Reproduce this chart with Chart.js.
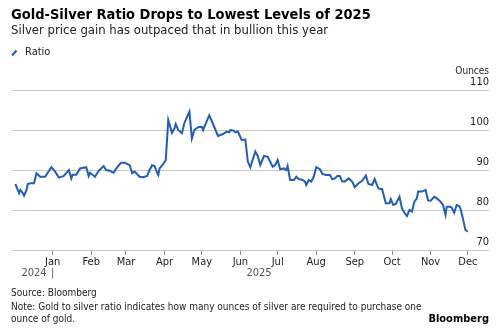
<!DOCTYPE html>
<html>
<head>
<meta charset="utf-8">
<script src="https://cdn.jsdelivr.net/npm/chart.js@4.4.1/dist/chart.umd.min.js"></script>
<style>
  html, body { margin: 0; padding: 0; background: #fff; }
  #wrap { width: 500px; height: 329px; position: relative; }
</style>
</head>
<body>
<div id="wrap"><canvas id="chart"></canvas></div>
<script>
/* =====================
  Data
===================== */
// days since 1 Jan 2025 (negative = Dec 2024)
var days = [-30, -28, -27, -26, -24, -23, -21, -20, -18, -15, -13, -10, -6, -4, -1,
  2, 5, 9, 13, 15, 16, 19, 22, 27, 29, 30, 34, 37, 41, 43, 46, 49, 52, 55, 58,
  62, 64, 66, 70, 73, 76, 78, 80, 82, 84, 85, 86, 89, 91, 93, 95, 96, 98, 99,
  101, 104, 106, 110, 112, 114, 117, 120, 121, 126, 129, 133, 137, 140, 142, 143,
  146, 147, 149, 152, 155, 157, 159, 163, 165, 167, 170, 173, 177, 179, 181, 183,
  186, 188, 189, 191, 194, 196, 198, 201, 203, 204, 206, 208, 210, 212, 215, 217,
  220, 223, 225, 227, 229, 231, 233, 235, 238, 241, 243, 246, 249, 252, 254, 257,
  259, 262, 265, 268, 271, 272, 274, 276, 279, 281, 283, 285, 287, 289, 291, 293,
  294, 297, 300, 302, 304, 307, 309, 312, 314, 316, 317, 320, 321, 323, 325, 327,
  328, 330, 332, 334]
var ratio = [86.5, 85.0, 84.2, 85.0, 84.2, 83.6, 85.0, 86.5, 86.7, 86.7, 89.2, 88.3, 88.3, 89.3, 90.7,
  89.6, 88.1, 88.5, 90.0, 87.9, 88.8, 88.8, 90.4, 90.7, 88.5, 89.3, 88.3, 89.8, 91.0, 90.0, 89.8, 89.3, 90.7, 91.8, 91.8,
  91.2, 89.2, 89.6, 88.3, 88.2, 88.5, 90.0, 91.2, 91.0, 89.3, 88.75, 90.4, 91.5, 92.5, 102.5, 100.4, 99.3, 100.4, 101.5,
  100.0, 99.2, 101.8, 104.6, 97.9, 100.0, 100.7, 100.8, 100.0, 103.7, 101.5, 98.5, 99.0, 99.6, 99.4, 100.0,
  99.8, 99.4, 99.6, 97.5, 97.6, 92.1, 90.7, 94.6, 93.5, 91.25, 93.5, 93.3, 90.8, 91.25, 92.5, 90.2,
  90.4, 90.0, 91.0, 87.5, 87.5, 88.3, 87.75, 87.5, 87.1, 86.25, 87.5, 87.1, 88.3, 90.7, 90.2, 89.0,
  88.75, 88.75, 87.7, 87.9, 88.5, 88.5, 87.1, 87.1, 87.9, 87.1, 85.7, 86.7, 87.3, 88.6, 86.5, 86.25,
  87.75, 85.4, 85.2, 81.7, 81.7, 82.7, 81.25, 81.5, 83.3, 80.4, 79.3, 78.5, 80.0, 79.6, 82.1, 82.9,
  84.6, 84.6, 85.0, 82.4, 82.3, 83.3, 82.9, 82.1, 81.25, 78.75, 80.8, 80.8, 80.6, 79.3, 81.25, 81.0,
  80.4, 77.9, 75.0, 74.6]

var monthStarts = [0, 31, 59, 90, 120, 151, 181, 212, 243, 273, 304, 334]
var monthLabels = ['Jan', 'Feb', 'Mar', 'Apr', 'May', 'Jun', 'Jul', 'Aug', 'Sep', 'Oct', 'Nov', 'Dec']
var yTicks = [70, 80, 90, 100, 110]

var FONT = "'DejaVu Sans Condensed', 'Liberation Sans', sans-serif"
var LINE_BLUE = '#1f5fb5'

/* =====================
  Text around the plot
===================== */
var textPlugin = {
  id: 'texts',
  afterDraw: function (chart) {
    var ctx = chart.ctx
    var xs = chart.scales.x
    ctx.save()
    ctx.textBaseline = 'middle'

    // title + subtitle
    ctx.fillStyle = '#000'
    ctx.textAlign = 'left'
    ctx.font = 'bold 14.5px ' + FONT
    ctx.fillText('Gold-Silver Ratio Drops to Lowest Levels of 2025', 11, 15)
    ctx.fillStyle = '#222'
    ctx.font = '13px ' + FONT
    ctx.fillText('Silver price gain has outpaced that in bullion this year', 11, 31)

    // legend
    ctx.strokeStyle = LINE_BLUE
    ctx.lineWidth = 2
    ctx.beginPath()
    ctx.moveTo(12, 55.5)
    ctx.lineTo(16.5, 50.5)
    ctx.stroke()
    ctx.font = '11px ' + FONT
    ctx.fillText('Ratio', 25, 52)

    // unit
    ctx.textAlign = 'right'
    ctx.font = '10px ' + FONT
    ctx.fillText('Ounces', 489, 71)

    // year row
    ctx.fillStyle = '#555'
    ctx.font = '11px ' + FONT
    var janX = xs.getPixelForValue(0)
    ctx.fillText('2024', janX - 6, 273)
    ctx.textAlign = 'center'
    ctx.fillText('|', janX, 273)
    ctx.fillText('2025', xs.getPixelForValue(166), 273)

    // footer
    ctx.fillStyle = '#222'
    ctx.textAlign = 'left'
    ctx.font = '10px ' + FONT
    ctx.fillText('Source: Bloomberg', 11, 293)
    ctx.fillText('Note: Gold to silver ratio indicates how many ounces of silver are required to purchase one', 11, 307)
    ctx.fillText('ounce of gold.', 11, 319)
    ctx.textAlign = 'right'
    ctx.fillStyle = '#000'
    ctx.font = 'bold 11px ' + FONT
    ctx.fillText('Bloomberg', 489, 319)
    ctx.restore()
  }
}

/* =====================
  Chart
===================== */
var ctx = document.getElementById('chart').getContext('2d')
var chart = new Chart(ctx, {
  type: 'line',
  data: {
    datasets: [{
      label: 'Ratio',
      data: days.map(function (d, i) { return { x: d, y: ratio[i] } }),
      borderColor: LINE_BLUE,
      borderWidth: 2,
      pointRadius: 0,
      tension: 0,
      fill: false
    }]
  },
  options: {
    responsive: true,
    maintainAspectRatio: false,
    animation: false,
    layout: { padding: { left: 12, right: 11, top: 90, bottom: 0 } },
    plugins: {
      legend: { display: false },
      tooltip: { enabled: false },
      title: { display: false }
    },
    scales: {
      x: {
        type: 'linear',
        min: -32.7,
        max: 351,
        afterBuildTicks: function (scale) {
          scale.ticks = monthStarts.map(function (v) { return { value: v } })
        },
        afterFit: function (scale) { scale.height = 79 },
        ticks: {
          autoSkip: false,
          maxRotation: 0,
          padding: 1,
          color: '#222',
          font: { family: FONT, size: 11 },
          callback: function (value) {
            var i = monthStarts.indexOf(value)
            return i >= 0 ? monthLabels[i] : ''
          }
        },
        grid: {
          drawOnChartArea: false,
          drawTicks: true,
          tickLength: 5,
          color: '#8a8a8a'
        },
        border: { display: false }
      },
      y: {
        position: 'right',
        min: 70,
        max: 110,
        afterBuildTicks: function (scale) {
          scale.ticks = yTicks.map(function (v) { return { value: v } })
        },
        afterFit: function (scale) { scale.width = 0 },
        ticks: {
          mirror: true,
          padding: 0,
          labelOffset: -8,
          color: '#222',
          font: { family: FONT, size: 11 }
        },
        grid: {
          drawTicks: false,
          color: '#c8c8c8',
          lineWidth: 1
        },
        border: { display: false }
      }
    }
  },
  plugins: [textPlugin]
})
</script>
</body>
</html>
